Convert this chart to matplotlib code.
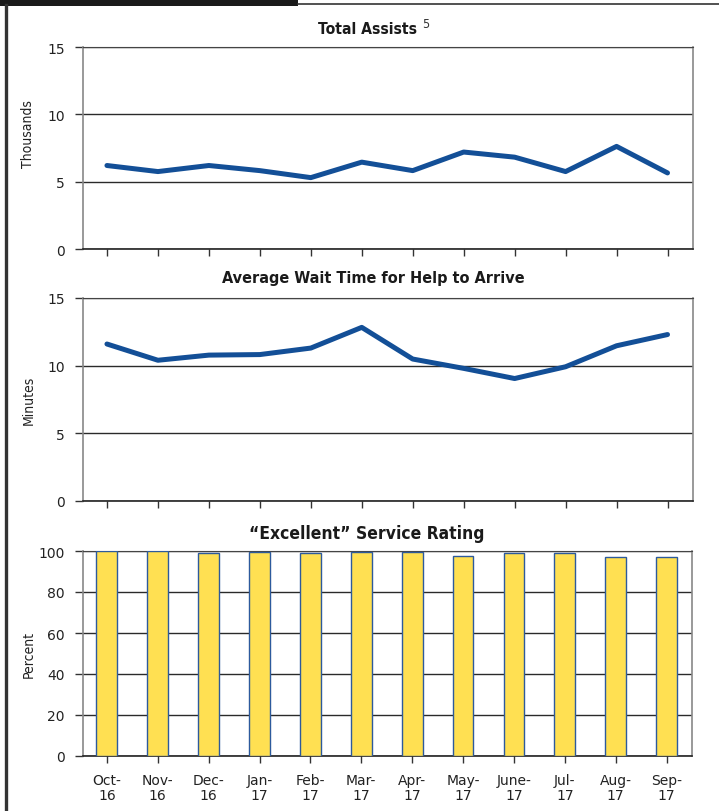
import matplotlib
matplotlib.use("Agg")
import matplotlib.pyplot as plt
from matplotlib.patches import Rectangle
from matplotlib.lines import Line2D

months = ["Oct-\n16", "Nov-\n16", "Dec-\n16", "Jan-\n17", "Feb-\n17", "Mar-\n17",
          "Apr-\n17", "May-\n17", "June-\n17", "Jul-\n17", "Aug-\n17", "Sep-\n17"]
total_assists = [6.2, 5.75, 6.2, 5.82, 5.3, 6.45, 5.82, 7.2, 6.82, 5.75, 7.62, 5.65]
wait_minutes = [11.6, 10.4, 10.78, 10.82, 11.3, 12.83, 10.49, 9.8, 9.05, 9.92, 11.47, 12.3]
excellent_pct = [100.0, 100.0, 98.9, 99.5, 98.9, 99.5, 99.5, 97.6, 98.9, 99.0, 97.2, 97.2]

LINE_COLOR = "#134f97"
BAR_COLOR = "#ffe052"
BAR_EDGE = "#2d5a9c"

fig = plt.figure(figsize=(7.19, 8.12), dpi=100)
W, H = 719, 812
renderer = fig.canvas.get_renderer()

def axes_px(left, top, right, bottom):
    return fig.add_axes([left / W, 1 - bottom / H, (right - left) / W, (bottom - top) / H])

ax1 = axes_px(83, 48, 693, 250)
ax2 = axes_px(83, 299, 693, 502)
ax3 = axes_px(83, 552, 692, 757)

x = list(range(len(months)))

def style(ax, ymax, yticks, ylabel, show_xlabels, label_y):
    ax.set_xlim(-0.47, 11.5)
    ax.set_ylim(0, ymax)
    ax.set_yticks(yticks)
    ax.set_xticks(x)
    if show_xlabels:
        ax.set_xticklabels(months, fontsize=10, color="#222222", linespacing=1.15)
    else:
        ax.set_xticklabels([])
    ax.tick_params(axis="y", length=6, width=1, color="#333333", labelsize=10,
                   labelcolor="#222222", pad=7)
    ax.tick_params(axis="x", length=5, width=1, color="#333333", pad=7)
    ax.yaxis.grid(True, color="#2a2a2a", linewidth=1)
    ax.set_axisbelow(True)
    for s in ["left", "right"]:
        ax.spines[s].set_color("#888888")
        ax.spines[s].set_linewidth(1.2)
    ax.spines["top"].set_color("#444444")
    ax.spines["bottom"].set_color("#222222")
    ax.spines["bottom"].set_linewidth(1.2)
    ax.set_ylabel(ylabel, fontsize=10, color="#222222", fontstretch="condensed")
    ax.yaxis.set_label_coords(-0.078, label_y)

style(ax1, 15, [0, 5, 10, 15], "Thousands", False, 0.574)
ax1.plot(x, total_assists, color=LINE_COLOR, linewidth=3.6, solid_capstyle="round",
         solid_joinstyle="round", zorder=3)

style(ax2, 15, [0, 5, 10, 15], "Minutes", False, 0.5)
ax2.plot(x, wait_minutes, color=LINE_COLOR, linewidth=3.6, solid_capstyle="round",
         solid_joinstyle="round", zorder=3)

style(ax3, 100, [0, 20, 40, 60, 80, 100], "Percent", True, 0.5)
ax3.bar(x, excellent_pct, width=0.41, color=BAR_COLOR, edgecolor=BAR_EDGE,
        linewidth=1, zorder=3)

def fitted_title(text, left_px, right_px, yc_px):
    t = fig.text(left_px / W, 1 - yc_px / H, text, ha="left", va="center",
                 fontsize=14, fontweight="bold", fontstretch="condensed",
                 color="#1a1a1a")
    w = t.get_window_extent(renderer).width
    t.set_fontsize(14 * (right_px - left_px) / w)
    return t

fitted_title("Total Assists", 318, 418, 29)
fig.text(422 / W, 1 - 25 / H, "5", ha="left", va="center", fontsize=9,
         fontstretch="condensed", color="#333333")
fitted_title("Average Wait Time for Help to Arrive", 222, 525, 279)
fitted_title("\u201cExcellent\u201d Service Rating", 249, 485, 534)

# Frame decorations
fig.patches.append(Rectangle((0, 1 - 7 / H), 298 / W, 7 / H, transform=fig.transFigure,
                             facecolor="#1a1a1a", edgecolor="none"))
fig.lines.append(Line2D([298 / W, 1], [1 - 5 / H, 1 - 5 / H], transform=fig.transFigure,
                        color="#333333", linewidth=1.2))
fig.lines.append(Line2D([5.5 / W, 5.5 / W], [0, 1 - 6 / H], transform=fig.transFigure,
                        color="#333333", linewidth=2.4))

fig.savefig("out.png", dpi=100)
